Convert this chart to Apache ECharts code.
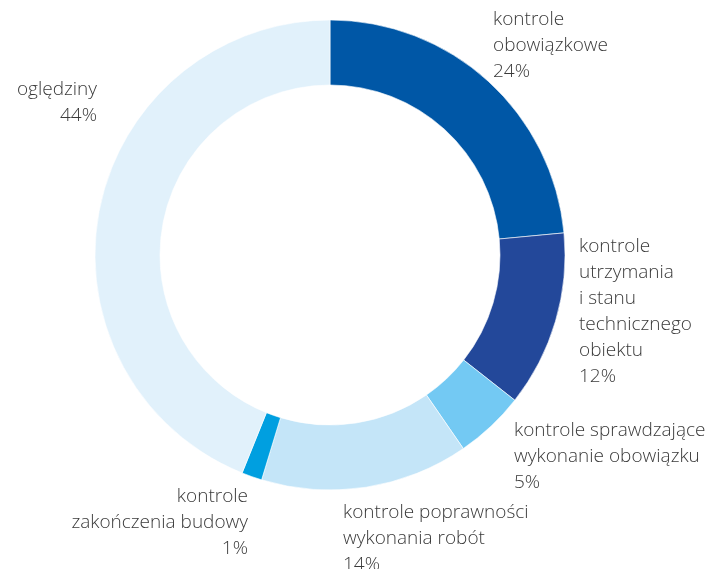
<!DOCTYPE html>
<html>
<head>
<meta charset="utf-8">
<script src="https://cdn.jsdelivr.net/npm/echarts@6/dist/echarts.min.js"></script>
<style>
  html, body { margin: 0; padding: 0; background: #fff; }
  #chart { width: 707px; height: 569px; }
</style>
</head>
<body>
<div id="chart"></div>
<script>
// categories (label text, line breaks as in the original)
var categories = [
  'kontrole\nobowiązkowe',
  'kontrole\nutrzymania\ni stanu\ntechnicznego\nobiektu',
  'kontrole sprawdzające\nwykonanie obowiązku',
  'kontrole poprawności\nwykonania robót',
  'kontrole\nzakończenia budowy',
  'oględziny'
]
// share in percent
var shares = [23.5, 12.1, 4.8, 14.3, 1.4, 43.9]
var colors = ['#0057a6', '#23489a', '#73c9f3', '#c4e5f8', '#009fe0', '#e1f1fb']

// where each label block sits (left/right anchor, top)
var labelSpots = [
  { x: 493, y: 7, align: 'left' },
  { x: 579, y: 234, align: 'left' },
  { x: 514, y: 418, align: 'left' },
  { x: 343, y: 500, align: 'left' },
  { x: 248, y: 484, align: 'right' },
  { x: 97, y: 77, align: 'right' }
]

var myChart = echarts.init(document.getElementById('chart'))
var option = {
  animation: false,
  series: [
    {
      type: 'pie',
      center: [330, 255],
      radius: [170, 235],
      startAngle: 90,
      clockwise: true,
      avoidLabelOverlap: false,
      itemStyle: {
        borderColor: '#fff',
        borderWidth: 0.6
      },
      label: {
        show: true,
        position: 'outside',
        formatter: function (p) {
          return p.name + '\n' + Math.round(p.value) + '%'
        },
        fontFamily: 'Open Sans',
        fontWeight: 300,
        fontSize: 19,
        lineHeight: 26,
        color: '#3a3a3a'
      },
      labelLine: { show: false },
      labelLayout: function (params) {
        var s = labelSpots[params.dataIndex]
        return {
          x: s.x,
          y: s.y,
          align: s.align,
          verticalAlign: 'top'
        }
      },
      emphasis: { disabled: true },
      data: categories.map(function (name, i) {
        return {
          name: name,
          value: shares[i],
          itemStyle: { color: colors[i] },
          label: { align: labelSpots[i].align }
        }
      })
    }
  ]
}
myChart.setOption(option)
</script>
</body>
</html>
